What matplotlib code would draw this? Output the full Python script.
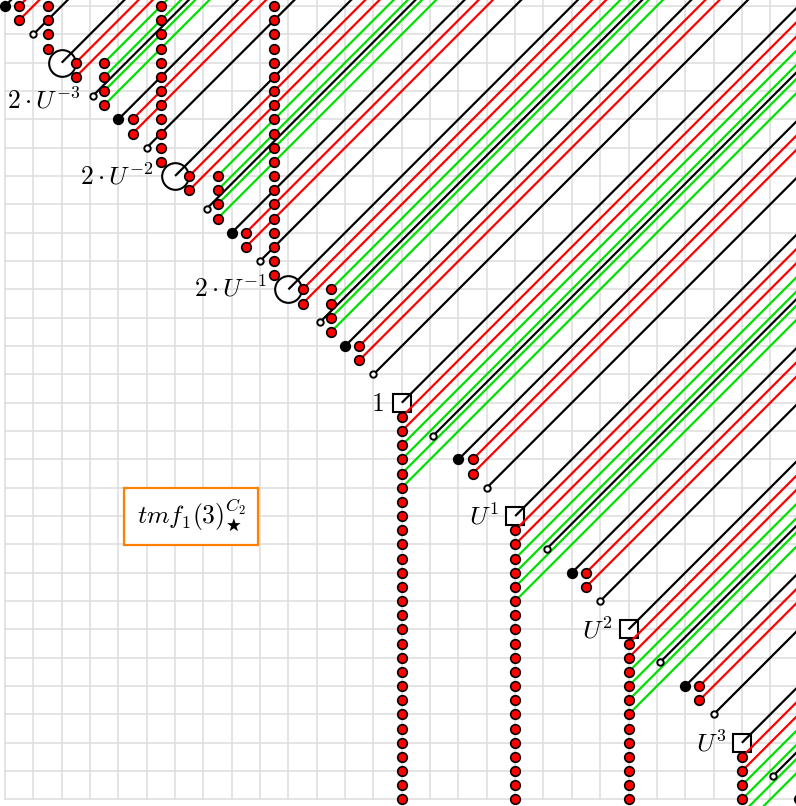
import matplotlib
matplotlib.use('Agg')
import matplotlib.pyplot as plt
from matplotlib.patches import Rectangle

plt.rcParams['mathtext.fontset'] = 'cm'

# generators sitting on the diagonal (chart units, row counted downwards)
circle_gens = [-4, 4, 12, 20]
circle_labels = [None, r'$2\cdot U^{-3}$', r'$2\cdot U^{-2}$', r'$2\cdot U^{-1}$']
circle_label_pos = [(-1.53, 0.0), (1.34, 2.7), (-1.53, 0.12), (-1.53, 0.0)]
square_gens = [28, 36, 44, 52]
square_labels = [r'$1$', r'$U^{1}$', r'$U^{2}$', r'$U^{3}$']
square_label_pos = [(-1.3, 0.08), (-1.15, 0.1), (-1.1, 0.15), (-1.1, 0.1)]

# classes around a circle generator: offsets (dx, dr)
circ_red_red = [(1, 0), (1, 1), (5, 4), (5, 5)]
circ_red_green = [(3, 0), (3, 1), (3, 2), (3, 3)]
circ_open = [(2.22, 2.32), (6, 6)]
circ_black = [(4, 4)]
circ_tower_col = -1      # tower of dots going up, no lines

# classes around a square generator
sq_red_red = [(0, 1), (0, 2), (5, 4), (5, 5)]
sq_red_green = [(0, 3), (0, 4), (0, 5), (0, 6)]
sq_open = [(2.22, 2.32), (6, 6)]
sq_black = [(4, 4)]
sq_tower_start = 7       # tower of dots going down, no lines

RED = '#ff0000'
GREEN = '#00e000'
BOX = '#ff8000'
FS = 18.5

fig = plt.figure(figsize=(7.96, 8.06), dpi=100)
ax = fig.add_axes([0, 0, 1, 1])
ax.axis('off')
ax.set_xlim(-0.353, 55.82)
ax.set_ylim(56.46, -0.423)

# grid
for gx in range(0, 56, 2):
    ax.plot([gx, gx], [56, -2], color='#dddddd', lw=1.1, zorder=0)
for gy in range(0, 57, 2):
    ax.plot([0, 60], [gy, gy], color='#dddddd', lw=1.1, zorder=0)

red_pts, black_pts, open_pts = [], [], []


def ray(x, r, color):
    ax.plot([x, x + 80], [r, r - 80], color=color, lw=1.6, zorder=3,
            solid_capstyle='butt')


for b, lab, (lx, lr) in zip(circle_gens, circle_labels, circle_label_pos):
    ax.plot(b, b, 'o', ms=19.2, mfc='white', mec='black', mew=1.5, zorder=2)
    ray(b, b, 'black')
    for dx, dr in circ_red_red:
        red_pts.append((b + dx, b + dr))
        ray(b + dx, b + dr, RED)
    for dx, dr in circ_red_green:
        red_pts.append((b + dx, b + dr))
        ray(b + dx, b + dr, GREEN)
    for dx, dr in circ_open:
        open_pts.append((b + dx, b + dr))
        ray(b + dx, b + dr, 'black')
    for dx, dr in circ_black:
        black_pts.append((b + dx, b + dr))
        ray(b + dx, b + dr, 'black')
    c = b + circ_tower_col
    for r in range(c, -2, -1):
        red_pts.append((c, r))
    if lab:
        ax.text(b + lx, b + lr, lab, ha='right', va='center', fontsize=FS, zorder=5)

for a, lab, (lx, lr) in zip(square_gens, square_labels, square_label_pos):
    ax.plot(a, a, 's', ms=12.5, mfc='white', mec='black', mew=1.5, zorder=2)
    ray(a, a, 'black')
    for dx, dr in sq_red_red:
        red_pts.append((a + dx, a + dr))
        ray(a + dx, a + dr, RED)
    for dx, dr in sq_red_green:
        red_pts.append((a + dx, a + dr))
        ray(a + dx, a + dr, GREEN)
    for dx, dr in sq_open:
        open_pts.append((a + dx, a + dr))
        ray(a + dx, a + dr, 'black')
    for dx, dr in sq_black:
        black_pts.append((a + dx, a + dr))
        ray(a + dx, a + dr, 'black')
    for r in range(a + sq_tower_start, 60):
        red_pts.append((a, r))
    ax.text(a + lx, a + lr, lab, ha='right', va='center', fontsize=FS, zorder=5)

ax.plot([p[0] for p in red_pts], [p[1] for p in red_pts], 'o', ls='none',
        ms=6.9, mfc=RED, mec='black', mew=1.2, zorder=4)
ax.plot([p[0] for p in black_pts], [p[1] for p in black_pts], 'o', ls='none',
        ms=7.1, mfc='black', mec='black', mew=1.0, zorder=4)
ax.plot([p[0] for p in open_pts], [p[1] for p in open_pts], 'o', ls='none',
        ms=4.6, mfc='white', mec='black', mew=1.4, zorder=4)

# name box
ax.add_patch(Rectangle((8.42, 34.04), 9.46, 4.0, fc='white', ec=BOX, lw=1.6, zorder=5))
ax.text(13.15, 36.0, r'$tmf_1(3)^{C_2}_{\bigstar}$', ha='center', va='center',
        fontsize=FS, zorder=6)

fig.savefig('out.png', dpi=100)
